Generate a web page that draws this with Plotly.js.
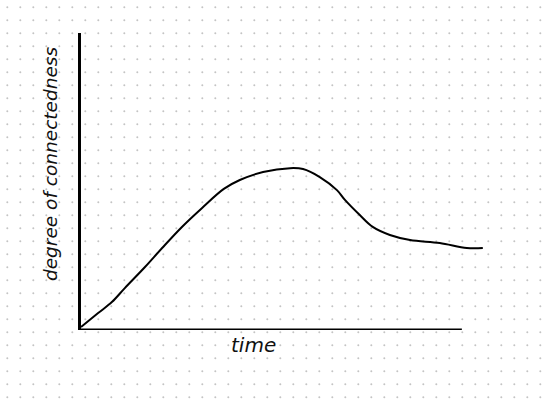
<!DOCTYPE html>
<html>
<head>
<meta charset="utf-8">
<script src="https://cdn.plot.ly/plotly-3.0.1.min.js"></script>
<style>
	html, body { margin: 0; padding: 0; background: #fff; }
	#chart { width: 550px; height: 410px; }
</style>
</head>
<body>
<div id="chart"></div>
<script>
// sketched curve (time, connectedness)
const time = [0, 4.5, 8.1, 11.5, 16.8, 21.3, 26.5, 31.8, 37.5, 41.7, 47.8, 54.9, 58.3, 62.7, 67.2, 69.3, 73.2, 76.6, 81.1, 86.4, 94.2, 101.3, 105.5];
const connectedness = [1, 5.7, 9.4, 14.1, 21.2, 27.6, 34.7, 41.1, 47.5, 50.5, 53.2, 54.5, 54.2, 51.5, 47.1, 43.8, 38.7, 34.7, 32.0, 30.3, 29.3, 27.6, 27.6];

const xTitle = "time";
const yTitle = "degree of connectedness";
const timeAxisEnd = 100;

// dotted notebook paper behind the chart
const dotStep = 13;
const dotStart = 7.3;
const dotX = [];
const dotY = [];
for (let i = 0; i < 42; i++) {
	for (let j = 0; j < 31; j++) {
		dotX.push(dotStart + i * dotStep);
		dotY.push(dotStart + j * dotStep);
	}
}

const handFont = {
	family: "DejaVu Sans",
	style: "italic",
	size: 18.5,
	color: "#111"
};

const data = [
	{
		x: dotX,
		y: dotY,
		xaxis: "x",
		yaxis: "y",
		mode: "markers",
		type: "scatter",
		hoverinfo: "skip",
		marker: { size: 2, color: "#c4c4c4" }
	},
	{
		x: time,
		y: connectedness,
		xaxis: "x2",
		yaxis: "y2",
		mode: "lines",
		type: "scatter",
		line: { color: "#000", width: 2, shape: "spline", smoothing: 1 }
	}
];

const hidden = {
	showgrid: false,
	zeroline: false,
	showticklabels: false,
	ticks: "",
	showline: false
};

const layout = {
	width: 550,
	height: 410,
	margin: { l: 0, r: 0, t: 0, b: 0, pad: 0 },
	paper_bgcolor: "#fff",
	plot_bgcolor: "rgba(0,0,0,0)",
	showlegend: false,
	xaxis: Object.assign({}, hidden, { domain: [0, 1], range: [0, 550], anchor: "y" }),
	yaxis: Object.assign({}, hidden, { domain: [0, 1], range: [410, 0], anchor: "x" }),
	xaxis2: Object.assign({}, hidden, {
		domain: [81 / 550, 495 / 550],
		range: [0, 108.7],
		anchor: "y2"
	}),
	yaxis2: Object.assign({}, hidden, {
		domain: [1 - 330 / 410, 1 - 33 / 410],
		range: [0, 100],
		anchor: "x2",
		showline: true,
		linecolor: "#000",
		linewidth: 3
	}),
	shapes: [
		{
			type: "line",
			xref: "x2",
			yref: "y2",
			x0: 0,
			x1: timeAxisEnd,
			y0: 0,
			y1: 0,
			line: { color: "#000", width: 3 }
		}
	],
	annotations: [
		{
			text: xTitle,
			xref: "paper",
			yref: "paper",
			x: 253 / 550,
			y: 1 - 345 / 410,
			xanchor: "center",
			yanchor: "middle",
			showarrow: false,
			font: Object.assign({}, handFont, { size: 20 })
		},
		{
			text: yTitle,
			xref: "paper",
			yref: "paper",
			x: 50 / 550,
			y: 1 - 164 / 410,
			xanchor: "center",
			yanchor: "middle",
			textangle: -90,
			showarrow: false,
			font: handFont
		}
	]
};

Plotly.newPlot("chart", data, layout, { staticPlot: true, displayModeBar: false });
</script>
</body>
</html>
